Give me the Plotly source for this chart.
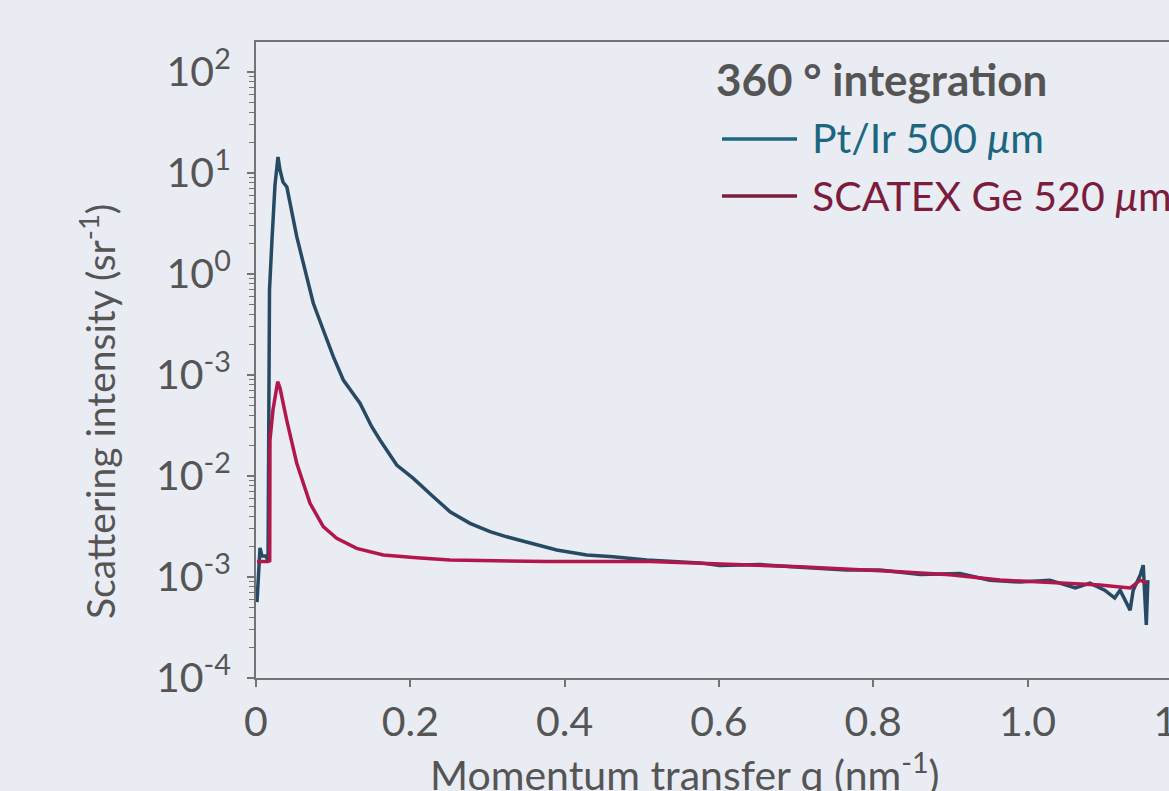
import plotly.graph_objects as go

# ---- data ----
q_ptir = [0.0013, 0.0052, 0.0078, 0.0130, 0.0156, 0.0175, 0.0207, 0.0246, 0.0285, 0.0311,
          0.0350, 0.0400, 0.0528, 0.0635, 0.0743, 0.0872, 0.1002, 0.1132, 0.1348, 0.1500,
          0.1607, 0.1824, 0.2039, 0.2298, 0.2515, 0.2774, 0.3033, 0.3250, 0.3552, 0.3898,
          0.4286, 0.4631, 0.5064, 0.5496, 0.5755, 0.6010, 0.6530, 0.7050, 0.7650, 0.8090,
          0.8610, 0.9125, 0.9510, 0.9900, 1.0290, 1.0620, 1.0810, 1.1000, 1.1130, 1.1200,
          1.1330, 1.1370, 1.1460, 1.1500, 1.1540, 1.1560]
I_ptir = [5.65e-4, 1.94e-3, 1.61e-3, 1.61e-3, 1.44e-3, 0.695, 2.17, 7.6, 14.4, 10.7,
          8.15, 7.26, 2.34, 1.10, 0.513, 0.279, 0.152, 0.0891, 0.0525, 0.0308,
          0.0227, 0.01285, 0.00948, 0.00624, 0.00443, 0.00340, 0.00281, 0.00250, 0.00216, 0.00185,
          0.00165, 0.00159, 0.00147, 0.00142, 1.38e-3, 1.30e-3, 1.33e-3, 1.25e-3, 1.17e-3, 1.17e-3,
          1.06e-3, 1.08e-3, 9.3e-4, 8.9e-4, 9.3e-4, 7.8e-4, 8.7e-4, 7.4e-4, 6.2e-4, 7.4e-4,
          4.7e-4, 7.4e-4, 1.04e-3, 1.31e-3, 3.35e-4, 9.3e-4]

q_ge = [0.0013, 0.0156, 0.0178, 0.0181, 0.0220, 0.0281, 0.0311, 0.0398, 0.0528, 0.0700,
        0.0872, 0.1046, 0.1305, 0.1650, 0.2083, 0.2515, 0.3768, 0.5107, 0.5755, 0.7051,
        0.8347, 0.8995, 0.9643, 1.0940, 1.1330, 1.1460, 1.1550]
I_ge = [1.42e-3, 1.42e-3, 1.45e-3, 0.0227, 0.045, 0.0859, 0.0743, 0.0358, 0.01337, 0.00537,
        0.00315, 0.00242, 0.00192, 0.00165, 0.00155, 0.00147, 0.00142, 0.00142, 0.00137, 0.00126,
        0.00113, 0.00105, 9.33e-4, 8.34e-4, 7.78e-4, 9.3e-4, 8.7e-4]

series_names = ["Pt/Ir 500 <i>μ</i>m", "SCATEX Ge 520 <i>μ</i>m"]
legend_title = "<b>360 ° integration</b>"
x_title = "Momentum transfer q (nm<sup>-1</sup>)"
y_title = "Scattering intensity (sr<sup>-1</sup>)"

x_tickvals = [0, 0.2, 0.4, 0.6, 0.8, 1.0, 1.2]
x_ticktext = ["0", "0.2", "0.4", "0.6", "0.8", "1.0", "1.2"]
y_tickvals = [1e-4, 1e-3, 1e-2, 1e-1, 1e0, 1e1, 1e2]
y_ticktext = ["10<sup>-4</sup>", "10<sup>-3</sup>", "10<sup>-2</sup>", "10<sup>-3</sup>",
              "10<sup>0</sup>", "10<sup>1</sup>", "10<sup>2</sup>"]

# ---- style ----
BG = "#e9ecf3"
AXIS = "#737373"
TXT = "#555555"
LINE_COLORS = ["#264a63", "#b2174b"]
LEG_COLORS = ["#1d6680", "#7b1c3c"]
FONT = "Lato"

W, H = 1260, 830
L, R, T, B = 256, 60, 42, 152
PW = W - L - R
PH = H - T - B
PX_PER_Q = 771.5
PX_PER_DEC = 101.0
xmax = PW / PX_PER_Q
ymin = -4
ymax = ymin + PH / PX_PER_DEC

fig = go.Figure()
fig.add_trace(go.Scatter(x=q_ptir, y=I_ptir, mode="lines", name=series_names[0],
                         line=dict(color=LINE_COLORS[0], width=3.5), showlegend=False))
fig.add_trace(go.Scatter(x=q_ge, y=I_ge, mode="lines", name=series_names[1],
                         line=dict(color=LINE_COLORS[1], width=3.5), showlegend=False))

# minor log ticks (2..9 of each decade)
minor_vals = [m * 10 ** e for e in range(-4, 2) for m in range(2, 10)]

fig.update_layout(
    width=W, height=H,
    margin=dict(l=L, r=R, t=T, b=B, autoexpand=False),
    paper_bgcolor=BG, plot_bgcolor=BG,
    font=dict(family=FONT, color=TXT, size=36),
    showlegend=False,
    xaxis=dict(
        range=[0, xmax], tickvals=x_tickvals, ticktext=x_ticktext,
        ticks="outside", ticklen=7, tickwidth=1.5, tickcolor=AXIS,
        showline=True, linecolor=AXIS, linewidth=2, mirror=True,
        showgrid=False, zeroline=False,
        tickfont=dict(size=41, color=TXT),
        automargin=False,
    ),
    yaxis=dict(
        type="log", range=[ymin, ymax], tickvals=y_tickvals, ticktext=y_ticktext,
        ticks="outside", ticklen=7, tickwidth=1.5, tickcolor=AXIS,
        minor=dict(tickvals=minor_vals, ticks="outside", ticklen=5, tickwidth=1.2, tickcolor=AXIS,
                   showgrid=False),
        showline=True, linecolor=AXIS, linewidth=2, mirror=True,
        showgrid=False, zeroline=False,
        tickfont=dict(size=41, color=TXT),
        ticklabelstandoff=8,
        automargin=False,
    ),
)

def px(xp):
    return (xp - L) / PW

def py(yp):
    return (T + PH - yp) / PH

# axis titles
fig.add_annotation(xref="paper", yref="paper", x=px(685), y=py(772), text=x_title,
                   showarrow=False, xanchor="center", yanchor="middle",
                   font=dict(family=FONT, size=41, color=TXT))
fig.add_annotation(xref="paper", yref="paper", x=px(97), y=py(412), text=y_title,
                   showarrow=False, xanchor="center", yanchor="middle", textangle=-90,
                   font=dict(family=FONT, size=39, color=TXT))

# legend drawn as text and line samples
fig.add_annotation(xref="paper", yref="paper", x=px(714), y=py(79), text=legend_title,
                   showarrow=False, xanchor="left", yanchor="middle",
                   font=dict(family=FONT, size=44, color=TXT))
for i, (name, c, yy) in enumerate(zip(series_names, LEG_COLORS, [139, 196])):
    fig.add_shape(type="line", xref="paper", yref="paper", x0=px(722), x1=px(797),
                  y0=py(yy), y1=py(yy), line=dict(color=c, width=3.5))
    fig.add_annotation(xref="paper", yref="paper", x=px(810), y=py(yy - 1), text=name,
                       showarrow=False, xanchor="left", yanchor="middle",
                       font=dict(family=FONT, size=41, color=c))

fig.write_html(
    "out.html",
    config={"displayModeBar": False},
    post_script="document.body.style.margin='0';document.body.style.overflow='hidden';"
                "document.documentElement.style.overflow='hidden';",
)
